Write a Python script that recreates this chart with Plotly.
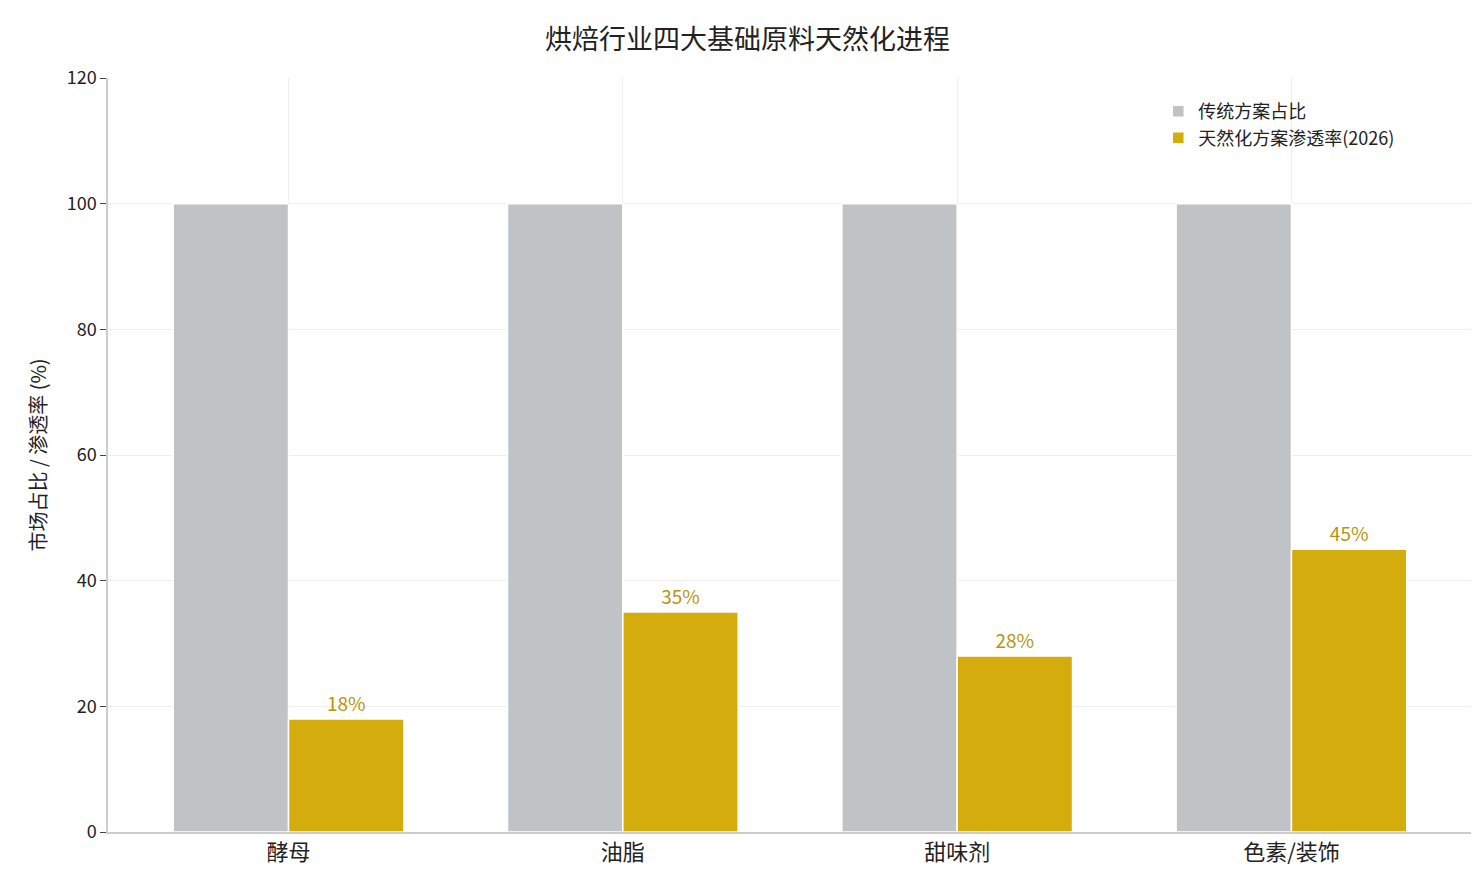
import plotly.graph_objs as go

categories = ['酵母', '油脂', '甜味剂', '色素/装饰']
traditional = [100, 100, 100, 100]
natural_2026 = [18, 35, 28, 45]
y_ticks = [0, 20, 40, 60, 80, 100, 120]

font = "Noto Sans CJK SC, DejaVu Sans, sans-serif"

fig = go.Figure()
fig.add_trace(go.Bar(x=categories, y=traditional, name='传统方案占比',
                     marker=dict(color='#bfc3c6', line=dict(color='white', width=1.5))))
fig.add_trace(go.Bar(x=categories, y=natural_2026, name='天然化方案渗透率(2026)',
                     marker=dict(color='#d4ac0d', line=dict(color='white', width=1.5)),
                     text=[f'{v}%' for v in natural_2026], textposition='outside',
                     textfont=dict(color='#b7950b', size=19), cliponaxis=False))

fig.update_layout(
    title=dict(text='烘焙行业四大基础原料天然化进程', x=0.5, y=0.975, font=dict(size=27, color='#222')),
    font=dict(family=font, size=18, color='#222'),
    barmode='group', bargap=0.31, bargroupgap=0,
    plot_bgcolor='white', paper_bgcolor='white',
    width=1479, height=879,
    margin=dict(l=100, r=15, t=70, b=55),
    legend=dict(x=0.77, y=0.98, xanchor='left', yanchor='top', bgcolor='rgba(255,255,255,0)',
                font=dict(size=18)),
    xaxis=dict(range=[-0.54, 3.54], showgrid=True, gridcolor='#eeeeee',
               showline=True, linecolor='#cccccc', linewidth=1.5, tickfont=dict(size=22)),
    yaxis=dict(range=[0, 120], tickvals=y_ticks, showgrid=True, gridcolor='#eeeeee',
               showline=True, linecolor='#cccccc', linewidth=1.5, ticks='outside',
               ticklen=6, tickcolor='#444', zeroline=False,
               title=dict(text='市场占比 / 渗透率 (%)', font=dict(size=20))),
)

fig.write_html("out.html")
